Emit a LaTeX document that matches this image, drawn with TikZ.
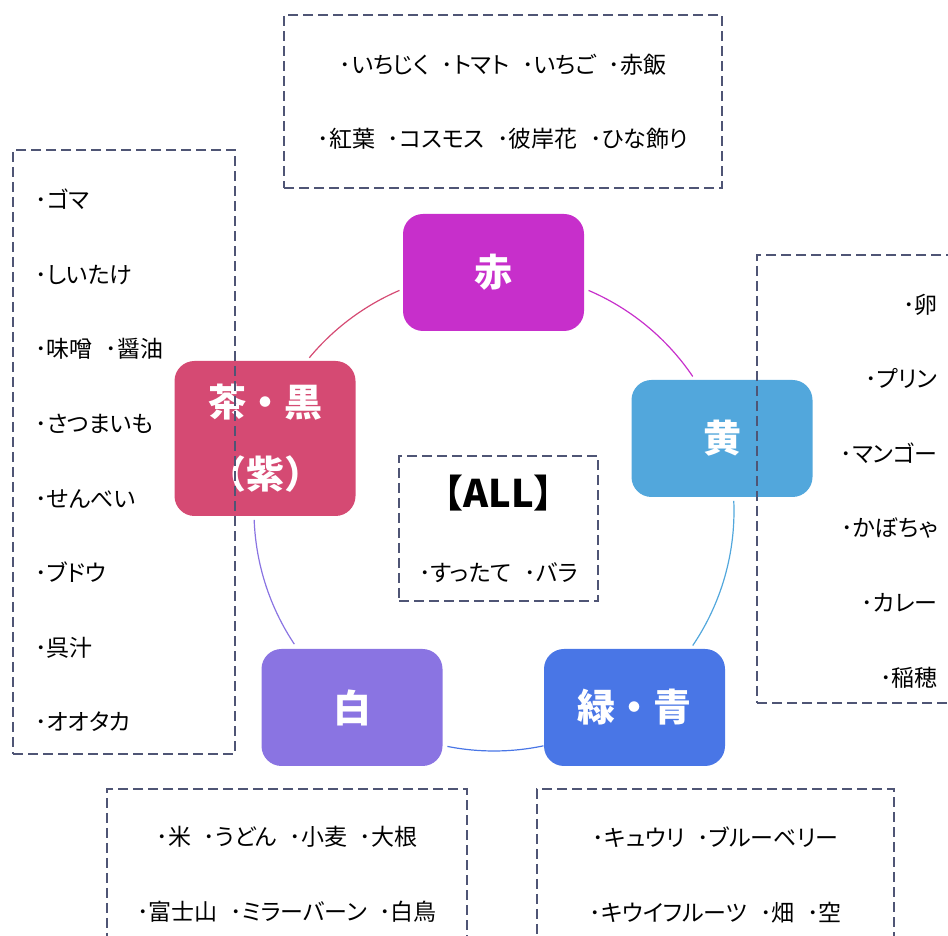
\documentclass[tikz,border=0pt]{standalone}
\usepackage{fontspec}
\usepackage{xcolor}
\usepackage{tikz}
\newfontfamily\listfont{Noto Sans CJK JP}[CharacterWidth=AlternateProportional]
\newfontfamily\labelfont{Noto Sans CJK JP}
\newcommand{\itemgap}{\hspace{0.55em}}
\definecolor{akaC}{HTML}{C72FCB}
\definecolor{kiC}{HTML}{52A7DC}
\definecolor{midoriC}{HTML}{4976E6}
\definecolor{shiroC}{HTML}{8A74E2}
\definecolor{chaC}{HTML}{D54A73}
\definecolor{frameC}{HTML}{4F5575}

\begin{document}
\begin{tikzpicture}[
    x=0.5pt, y=0.5pt,
    colorbox/.style={rectangle, rounded corners=10pt, minimum width=90.5pt, minimum height=58.5pt, inner sep=0pt, text=white, align=center, font=\labelfont\bfseries\fontsize{19}{36}\selectfont},
    listframe/.style={rectangle, draw=frameC, line width=0.8pt, dash pattern=on 5pt off 2.5pt, inner sep=0pt, align=center, font=\listfont\fontsize{11.5}{37}\selectfont},
    listtext/.style={inner sep=0pt, font=\listfont\fontsize{11.5}{37.3}\selectfont},
    ring/.style={line width=0.6pt}
]
\clip (0,0) rectangle (948,936);

\node[colorbox, fill=akaC] (aka) at (493.5,663.5) {赤};
\node[colorbox, fill=kiC] (ki) at (722,497.5) {黄};
\node[colorbox, fill=midoriC] (midori) at (634.5,228.5) {緑・青};
\node[colorbox, fill=shiroC] (shiro) at (352,228.5) {白};
\node[colorbox, fill=chaC, minimum height=77.5pt] (cha) at (265,497.5) {茶・黒\\（紫）};

\coordinate (hub) at (494,425);
\draw[ring, akaC] (hub) ++(66.8:240) arc[start angle=66.8, end angle=34.1, radius=240];
\draw[ring, kiC] (hub) ++(2.4:240) arc[start angle=2.4, end angle=-34.1, radius=240];
\draw[ring, midoriC] (hub) ++(-78.1:240) arc[start angle=-78.1, end angle=-101.2, radius=240];
\draw[ring, shiroC] (hub) ++(-146.3:240) arc[start angle=-146.3, end angle=-177.9, radius=240];
\draw[ring, chaC] (hub) ++(140.3:240) arc[start angle=140.3, end angle=113.2, radius=240];

\node[listframe, minimum width=219pt, minimum height=86.5pt] (akalist) at (503,834.5) {･いちじく\itemgap･トマト\itemgap･いちご\itemgap･赤飯\\･紅葉\itemgap･コスモス\itemgap･彼岸花\itemgap･ひな飾り};

\node[listframe, minimum width=111pt, minimum height=302pt] (chalist) at (124,484) {};
\node[listtext, align=left, anchor=west] (chatext) at (35,475.5) {･ゴマ\\･しいたけ\\･味噌\itemgap･醤油\\･さつまいも\\･せんべい\\･ブドウ\\･呉汁\\･オオタカ};

\node[listframe, minimum width=106.5pt, minimum height=224pt] (kilist) at (863.5,457) {};
\node[listtext, align=right, anchor=east] (kitext) at (938,445) {･卵\\･プリン\\･マンゴー\\･かぼちゃ\\･カレー\\･稲穂};

\node[listframe, minimum width=99.5pt, minimum height=72.5pt] (alllist) at (498.5,407.5) {{\labelfont\bfseries\fontsize{19}{19}\selectfont 【ALL】}\\･すったて\itemgap･バラ};

\node[listframe, minimum width=180pt, minimum height=85.5pt, font=\listfont\fontsize{11.5}{37.5}\selectfont] (shirolist) at (287,61.5) {･米\itemgap･うどん\itemgap･小麦\itemgap･大根\\･富士山\itemgap･ミラーバーン\itemgap･白鳥};
\node[listframe, minimum width=178.5pt, minimum height=85.5pt, font=\listfont\fontsize{11.5}{37.5}\selectfont] (midorilist) at (715.5,61.5) {･キュウリ\itemgap･ブルーベリー\\･キウイフルーツ\itemgap･畑\itemgap･空};

\end{tikzpicture}
\end{document}
